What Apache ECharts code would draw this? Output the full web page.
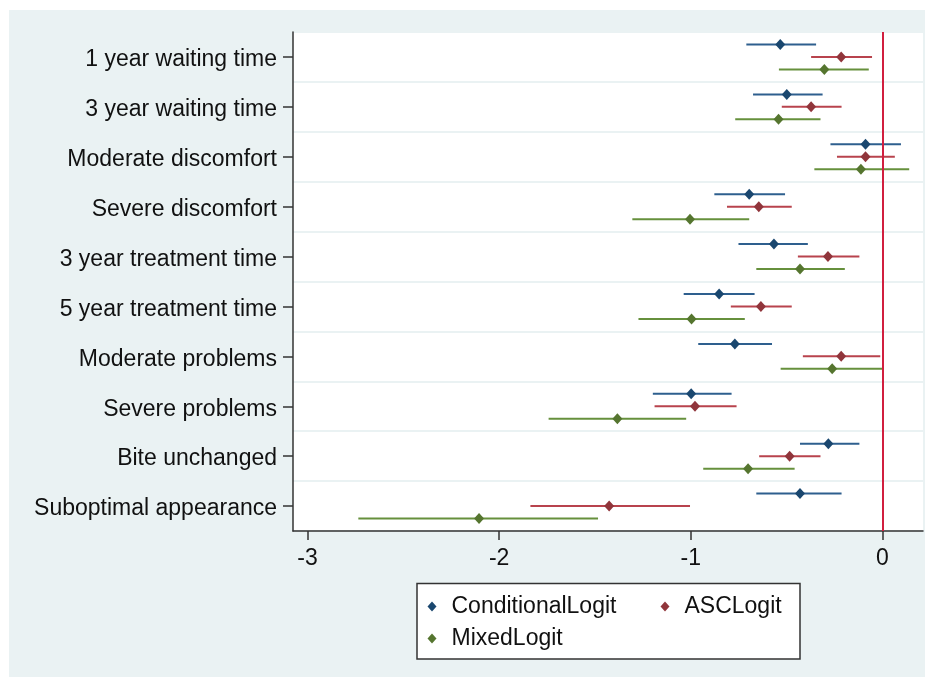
<!DOCTYPE html>
<html>
<head>
<meta charset="utf-8">
<script src="https://cdn.jsdelivr.net/npm/echarts@6/dist/echarts.min.js"></script>
<style>
  html, body { margin: 0; padding: 0; background: #ffffff; }
  #bg { position: absolute; left: 9px; top: 10px; width: 916px; height: 667px; background: #EAF2F3; }
  #chart { position: absolute; left: 0; top: 0; width: 925px; height: 677px; }
</style>
</head>
<body>
<div id="bg"></div>
<div id="chart"></div>
<script>
// ---- data ----
var categories = ['1 year waiting time', '3 year waiting time', 'Moderate discomfort', 'Severe discomfort',
  '3 year treatment time', '5 year treatment time', 'Moderate problems', 'Severe problems',
  'Bite unchanged', 'Suboptimal appearance'];
var seriesNames = ['ConditionalLogit', 'ASCLogit', 'MixedLogit'];

var condEst = [-0.533, -0.499, -0.088, -0.695, -0.566, -0.852, -0.770, -0.998, -0.282, -0.430];
var condLo  = [-0.710, -0.675, -0.271, -0.877, -0.751, -1.037, -0.961, -1.198, -0.430, -0.658];
var condHi  = [-0.346, -0.312,  0.097, -0.508, -0.389, -0.667, -0.576, -0.787, -0.120, -0.213];

var ascEst = [-0.215, -0.372, -0.088, -0.645, -0.284, -0.634, -0.215, -0.978, -0.484, -1.426];
var ascLo  = [-0.372, -0.525, -0.237, -0.811, -0.441, -0.791, -0.415, -1.189, -0.643, -1.837];
var ascHi  = [-0.054, -0.213,  0.065, -0.473, -0.120, -0.473, -0.011, -0.761, -0.323, -1.004];

var mixEst = [-0.303, -0.542, -0.112, -1.004, -0.430, -0.996, -0.262, -1.383, -0.701, -2.105];
var mixLo  = [-0.540, -0.768, -0.355, -1.305, -0.658, -1.273, -0.531, -1.742, -0.935, -2.735];
var mixHi  = [-0.071, -0.323,  0.140, -0.695, -0.196, -0.718, -0.002, -1.024, -0.458, -1.484];

var xTicks = [-3, -2, -1, 0];

// ---- styling / layout ----
var FONT = 'Liberation Sans, Arial, sans-serif';
var TXT = '#111111';
var markerColors = ['#1a476f', '#90353b', '#55752f'];
var lineColors = ['#2e5f8e', '#b8434d', '#66903c'];
var offsets = [-0.25, 0, 0.25];

var est = [condEst, ascEst, mixEst];
var lo = [condLo, ascLo, mixLo];
var hi = [condHi, ascHi, mixHi];

var series = [];
seriesNames.forEach(function (name, s) {
  var ciData = categories.map(function (c, i) { return [lo[s][i], hi[s][i], i + 1 + offsets[s]]; });
  var ptData = categories.map(function (c, i) { return [est[s][i], i + 1 + offsets[s]]; });
  series.push({
    name: name + ' CI',
    type: 'custom',
    xAxisIndex: 0, yAxisIndex: 1,
    data: ciData,
    z: 2,
    silent: true,
    renderItem: function (params, api) {
      var p1 = api.coord([api.value(0), api.value(2)]);
      var p2 = api.coord([api.value(1), api.value(2)]);
      return {
        type: 'line',
        shape: { x1: p1[0], y1: p1[1], x2: p2[0], y2: p2[1] },
        style: { stroke: lineColors[s], lineWidth: 2 }
      };
    }
  });
  var sc = {
    name: name,
    type: 'scatter',
    xAxisIndex: 0, yAxisIndex: 1,
    data: ptData,
    symbol: 'diamond',
    symbolSize: [10, 11],
    itemStyle: { color: markerColors[s], opacity: 1 },
    z: 5,
    silent: true
  };
  if (s === 0) {
    sc.markLine = {
      silent: true,
      symbol: ['none', 'none'],
      label: { show: false },
      lineStyle: { color: '#d11f3f', width: 2, type: 'solid' },
      data: [{ xAxis: 0 }]
    };
  }
  series.push(sc);
});

function legendAt(name, left, top) {
  return {
    data: [name],
    left: left, top: top,
    padding: 0, itemGap: 0,
    icon: 'diamond',
    itemWidth: 9, itemHeight: 10,
    selectedMode: false,
    formatter: '{a|{name}}',
    textStyle: {
      fontSize: 23, color: TXT, fontFamily: FONT,
      rich: { a: { fontSize: 23, color: TXT, fontFamily: FONT, padding: [0, 0, 0, 10] } }
    }
  };
}

var chart = echarts.init(document.getElementById('chart'), null, { renderer: 'canvas' });
chart.setOption({
  backgroundColor: 'transparent',
  animation: false,
  textStyle: { fontFamily: FONT },
  grid: {
    left: 293, top: 32, right: 2, bottom: 146,
    show: true, backgroundColor: '#ffffff', borderWidth: 0,
    containLabel: false, outerBoundsMode: 'none'
  },
  xAxis: {
    type: 'value',
    min: -3.076, max: 0.212,
    axisLine: { show: true, onZero: false, lineStyle: { color: '#333333', width: 1.5 } },
    axisTick: { show: true, length: 9, customValues: xTicks, lineStyle: { color: '#333333', width: 1.5 } },
    axisLabel: { customValues: xTicks, fontSize: 23, color: TXT, margin: 16, fontFamily: FONT },
    splitLine: { show: false }
  },
  yAxis: [{
    type: 'category',
    data: categories,
    inverse: true,
    boundaryGap: true,
    axisLine: { show: true, onZero: false, lineStyle: { color: '#333333', width: 1.5 } },
    axisTick: { show: true, alignWithLabel: true, length: 10, lineStyle: { color: '#333333', width: 1.5 } },
    axisLabel: {
      fontSize: 23, color: TXT, margin: 16, fontFamily: FONT, interval: 0,
      formatter: '{a|{value}}',
      rich: { a: { fontSize: 23, color: TXT, fontFamily: FONT, padding: [6, 0, 0, 0] } }
    },
    splitLine: { show: true, lineStyle: { color: '#EAF2F3', width: 2 } }
  }, {
    type: 'value',
    show: false,
    inverse: true,
    min: 0.5, max: 10.5,
    axisLine: { onZero: false },
    splitLine: { show: false }
  }],
  legend: [
    legendAt('ConditionalLogit', 427.5, 595),
    legendAt('ASCLogit', 660.5, 595),
    legendAt('MixedLogit', 427.5, 627)
  ],
  graphic: [{
    type: 'rect',
    z: 0,
    silent: true,
    shape: { x: 417, y: 583.5, width: 383, height: 75.5 },
    style: { fill: '#ffffff', stroke: '#333333', lineWidth: 1.5 }
  }],
  series: series
});
</script>
</body>
</html>
